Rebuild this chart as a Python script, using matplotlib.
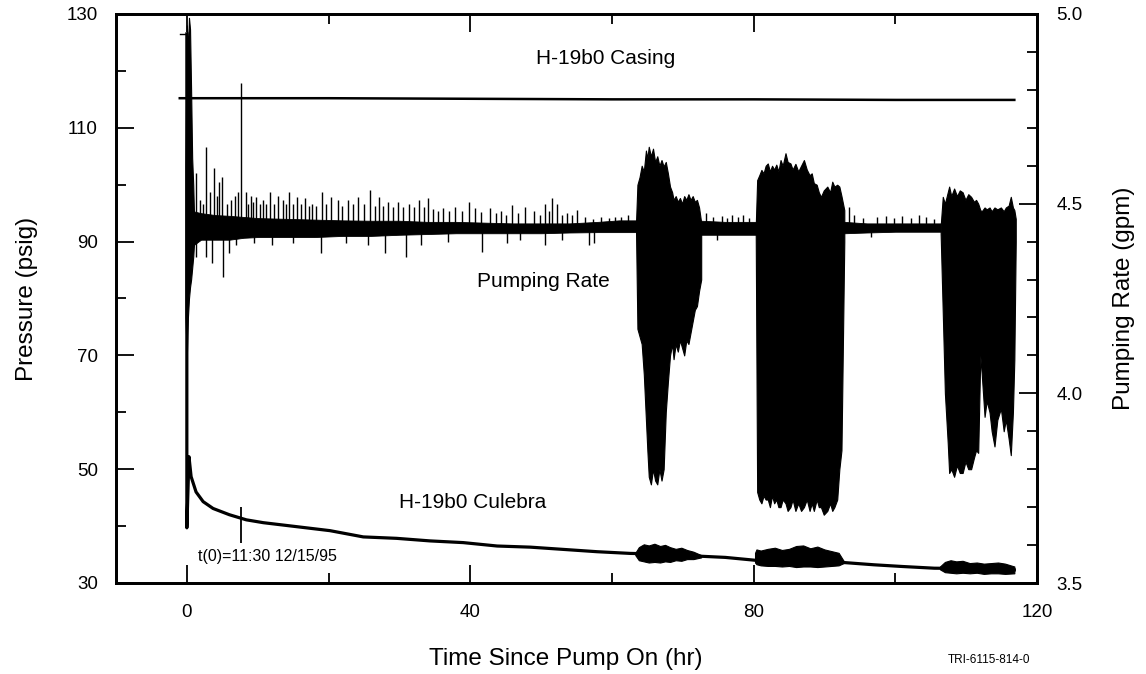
import matplotlib
matplotlib.use("Agg")
import matplotlib.pyplot as plt
from matplotlib.ticker import FixedLocator, MultipleLocator

# ---------------- data ----------------
# H-19b0 casing pressure (psig)
cas_t = [-1.0, 20, 40, 60, 80, 100, 116.8]
cas_p = [115.2, 115.2, 115.1, 115.0, 115.0, 114.9, 114.9]

# H-19b0 Culebra pressure (psig), smooth part
cul_t = [-1.0, 0.0, 0.0, 0.3, 0.6, 1.3, 2.3, 3.7, 6.0, 8.4, 10.8, 15.5, 20.2,
         24.9, 29.6, 34.3, 39.0, 43.8, 48.5, 53.2, 57.9, 62.6, 67.0, 72.6,
         76.0, 80.2, 86.0, 92.7, 97.0, 101.0, 105.5, 110.0, 114.0, 116.8]
cul_p = [126.5, 126.5, 39.7, 52.2, 48.7, 46.0, 44.3, 43.1, 42.0, 41.1, 40.6,
         39.9, 39.2, 38.1, 37.85, 37.4, 37.1, 36.5, 36.3, 35.9, 35.5, 35.2,
         35.1, 34.7, 34.5, 34.0, 34.1, 33.6, 33.2, 32.9, 32.6, 32.55, 32.4, 32.3]
# Culebra noisy episodes (envelopes)
cb1_t = [63.3, 63.8, 64.5, 65.2, 66.0, 66.8, 67.5, 68.2, 69.0, 69.8, 70.6,
         71.5, 72.6]
cb1_hi = [35.3, 36.3, 36.8, 36.6, 36.9, 36.5, 36.7, 36.3, 36.0, 36.2, 35.8,
          35.5, 34.9]
cb1_lo = [34.9, 34.0, 33.8, 33.6, 33.7, 33.6, 33.8, 33.7, 34.0, 33.9, 34.2,
          34.2, 34.5]
cb2_t = [80.2, 80.4, 81.0, 82.0, 83.0, 84.0, 85.0, 86.0, 87.0, 88.0, 89.0,
         90.0, 91.0, 92.0, 92.7]
cb2_hi = [35.3, 35.9, 35.7, 36.0, 36.2, 35.8, 36.0, 36.5, 36.6, 36.1, 36.4,
          35.9, 35.6, 35.3, 33.9]
cb2_lo = [33.6, 33.3, 33.1, 33.0, 33.0, 32.9, 33.0, 32.8, 32.9, 32.9, 32.8,
          32.9, 33.0, 33.1, 33.5]
cb3_t = [106.3, 107.0, 107.8, 108.6, 109.5, 110.5, 111.5, 112.5, 113.5,
         114.5, 115.5, 116.8]
cb3_hi = [32.9, 33.7, 34.0, 33.8, 33.9, 33.5, 33.6, 33.4, 33.5, 33.6, 33.4,
          32.9]
cb3_lo = [32.4, 31.9, 31.8, 31.7, 31.8, 31.7, 31.8, 31.6, 31.7, 31.7, 31.6,
          31.7]
cul_spk_t = [7.7]
cul_spk_lo = [37.0]
cul_spk_hi = [43.4]

# Pumping rate (gpm): start-up burst envelope
init_t = [-0.2, 0.0, 0.15, 0.3, 0.45, 0.6, 0.75, 0.9, 1.0]
init_hi = [4.60, 4.97, 4.90, 4.99, 4.96, 4.80, 4.62, 4.55, 4.48]
init_lo = [4.20, 4.10, 4.20, 4.25, 4.28, 4.30, 4.33, 4.36, 4.39]
# quiet-period band
band_t = [0.9, 2, 4, 6, 8, 10, 14, 18, 22, 26, 30, 34, 38, 42, 46, 50, 54,
          58, 61, 63.4, 72.6, 76, 80.3, 92.8, 96, 100, 104, 106.4]
band_lo = [4.39, 4.405, 4.405, 4.405, 4.41, 4.412, 4.412, 4.412, 4.415, 4.415,
           4.418, 4.42, 4.422, 4.422, 4.422, 4.422, 4.424, 4.425, 4.425, 4.425,
           4.418, 4.418, 4.418, 4.422, 4.424, 4.426, 4.426, 4.426]
band_hi = [4.48, 4.475, 4.47, 4.468, 4.465, 4.462, 4.46, 4.458, 4.456, 4.455,
           4.455, 4.452, 4.452, 4.45, 4.448, 4.448, 4.448, 4.452, 4.456, 4.456,
           4.455, 4.452, 4.452, 4.452, 4.448, 4.448, 4.448, 4.448]
# individual spikes
up_t = [1.3, 1.8, 2.3, 2.7, 3.2, 3.9, 4.2, 4.5, 4.9, 5.6, 6.3, 6.8, 7.2,
        7.7, 8.3, 8.7, 9.0, 9.4, 9.8, 10.3, 10.7, 11.2, 11.7, 12.3, 12.9,
        13.6, 14.0, 14.4, 15.0, 15.5, 16.1, 16.7, 17.2, 17.7, 18.3, 19.1,
        19.7, 20.4, 21.3, 21.9, 22.7, 23.4, 24.2, 25.0, 25.8, 26.5, 27.1,
        27.7, 28.4, 29.1, 29.8, 30.5, 31.3, 32.0, 32.8, 33.5, 34.1, 34.8,
        35.5, 36.2, 37.0, 37.9, 38.8, 39.8, 40.7, 41.5, 42.8, 43.6, 44.3,
        45.1, 45.9, 46.8, 47.8, 49.0, 49.8, 50.6, 51.1, 51.6, 52.3, 53.0,
        53.7, 54.4, 55.1, 56.2, 57.3, 58.4, 59.6, 60.5, 61.3, 62.3, 73.3,
        74.3, 75.5, 76.3, 77.0, 77.8, 78.5, 79.4, 93.5, 94.2, 95.5, 97.4,
        98.7, 99.8, 101.0, 102.2, 103.3, 104.3, 105.4]
up_v = [4.58, 4.51, 4.50, 4.65, 4.53, 4.594, 4.52, 4.557, 4.57, 4.50, 4.51,
        4.52, 4.53, 4.817, 4.53, 4.50, 4.52, 4.505, 4.518, 4.50, 4.51, 4.50,
        4.531, 4.50, 4.52, 4.51, 4.50, 4.53, 4.498, 4.518, 4.50, 4.514, 4.495,
        4.50, 4.495, 4.531, 4.50, 4.518, 4.51, 4.495, 4.51, 4.498, 4.518,
        4.50, 4.536, 4.495, 4.518, 4.495, 4.505, 4.49, 4.505, 4.49, 4.50,
        4.49, 4.51, 4.49, 4.515, 4.485, 4.48, 4.488, 4.48, 4.492, 4.48, 4.505,
        4.488, 4.478, 4.488, 4.475, 4.48, 4.47, 4.497, 4.475, 4.492, 4.48,
        4.47, 4.50, 4.48, 4.515, 4.50, 4.47, 4.475, 4.47, 4.483, 4.465, 4.46,
        4.466, 4.462, 4.465, 4.466, 4.47, 4.475, 4.465, 4.468, 4.462, 4.47,
        4.465, 4.47, 4.462, 4.492, 4.47, 4.462, 4.465, 4.468, 4.462, 4.468,
        4.462, 4.47, 4.465, 4.46]
dn_t = [1.3, 2.7, 3.6, 5.1, 6.0, 7.0, 9.5, 12.0, 15.0, 19.0, 22.5, 25.5,
        28.0, 30.9, 33.0, 36.8, 41.7, 45.2, 47.0, 50.6, 53.0, 56.8, 57.5,
        74.8, 96.6]
dn_v = [4.36, 4.36, 4.344, 4.307, 4.37, 4.39, 4.395, 4.39, 4.395, 4.37,
        4.395, 4.39, 4.37, 4.36, 4.39, 4.40, 4.373, 4.396, 4.405, 4.391, 4.405,
        4.391, 4.396, 4.405, 4.413]
# oscillating episodes
b1_t = [63.4, 63.6, 63.9, 64.2, 64.5, 64.8, 65.0, 65.2, 65.5, 65.8, 66.1,
        66.4, 66.7, 67.0, 67.3, 67.6, 67.9, 68.2, 68.5, 68.7, 69.0, 69.3,
        69.6, 69.9, 70.2, 70.5, 70.8, 71.1, 71.4, 71.7, 72.0, 72.3, 72.6]
b1_hi = [4.45, 4.55, 4.57, 4.60, 4.585, 4.64, 4.62, 4.65, 4.625, 4.645,
         4.61, 4.625, 4.60, 4.615, 4.598, 4.61, 4.58, 4.545, 4.53, 4.51,
         4.52, 4.505, 4.515, 4.50, 4.52, 4.51, 4.525, 4.51, 4.52, 4.505,
         4.51, 4.49, 4.45]
b1_lo = [4.43, 4.17, 4.15, 4.13, 4.05, 3.93, 3.85, 3.78, 3.76, 3.80, 3.77,
         3.76, 3.80, 3.77, 3.80, 3.95, 4.03, 4.10, 4.13, 4.09, 4.13, 4.11,
         4.14, 4.12, 4.10, 4.14, 4.13, 4.16, 4.19, 4.22, 4.23, 4.27, 4.30]
b2_t = [80.3, 80.5, 80.8, 81.1, 81.4, 81.7, 82.0, 82.3, 82.6, 82.9, 83.2,
        83.5, 83.8, 84.1, 84.5, 84.8, 85.2, 85.5, 85.9, 86.3, 86.7, 87.1,
        87.5, 87.9, 88.2, 88.5, 88.9, 89.2, 89.5, 89.9, 90.4, 90.8, 91.1,
        91.4, 91.8, 92.1, 92.4, 92.8]
b2_hi = [4.44, 4.562, 4.575, 4.589, 4.58, 4.60, 4.606, 4.585, 4.60, 4.59,
         4.603, 4.585, 4.615, 4.60, 4.633, 4.61, 4.606, 4.59, 4.605, 4.585,
         4.60, 4.615, 4.59, 4.575, 4.58, 4.554, 4.55, 4.53, 4.518, 4.535,
         4.545, 4.53, 4.558, 4.545, 4.55, 4.545, 4.52, 4.483]
b2_lo = [4.42, 3.74, 3.72, 3.71, 3.73, 3.72, 3.72, 3.70, 3.73, 3.71, 3.72,
         3.70, 3.70, 3.72, 3.71, 3.69, 3.70, 3.72, 3.69, 3.71, 3.69, 3.70,
         3.72, 3.69, 3.71, 3.69, 3.72, 3.70, 3.70, 3.68, 3.69, 3.71, 3.69,
         3.70, 3.72, 3.80, 3.85, 4.40]
b3_t = [106.4, 106.7, 107.0, 107.4, 107.6, 107.9, 108.3, 108.7, 109.1,
        109.5, 109.9, 110.3, 110.7, 111.1, 111.4, 111.7, 112.0, 112.2,
        112.6, 112.9, 113.3, 113.6, 114.0, 114.4, 114.9, 115.3, 115.6,
        116.0, 116.3, 116.6, 116.8, 117.0]
b3_hi = [4.44, 4.518, 4.50, 4.53, 4.545, 4.52, 4.54, 4.52, 4.535, 4.53,
         4.51, 4.525, 4.518, 4.505, 4.51, 4.50, 4.483, 4.48, 4.49, 4.485,
         4.49, 4.48, 4.49, 4.485, 4.49, 4.48, 4.49, 4.495, 4.518, 4.49,
         4.483, 4.46]
b3_lo = [4.42, 4.212, 4.00, 3.869, 3.79, 3.80, 3.78, 3.81, 3.79, 3.79,
         3.82, 3.80, 3.80, 3.83, 3.85, 3.843, 4.10, 4.05, 3.938, 3.98, 3.95,
         3.90, 3.86, 3.93, 3.96, 3.90, 3.93, 3.88, 3.837, 3.95, 4.088, 4.40]

x_major = [0, 40, 80, 120]
x_minor = [20, 60, 100]
p_major = [30, 50, 70, 90, 110, 130]
p_minor = [40, 60, 80, 100, 120]
q_major = [3.5, 4.0, 4.5, 5.0]

# ---------------- figure ----------------
plt.rcParams['font.family'] = ['Liberation Sans', 'DejaVu Sans']
W, H = 1146, 674
fig = plt.figure(figsize=(W / 100, H / 100), dpi=100)
L, R, T, B = 116, 1037, 14, 583
ax = fig.add_axes([L / W, 1 - B / H, (R - L) / W, (B - T) / H])
ax2 = ax.twinx()

k = 'black'
# pressures
ax.plot(cas_t, cas_p, color=k, lw=1.8)
ax.plot(cul_t[:2], cul_p[:2], color=k, lw=1.0)
ax.plot(cul_t[1:], cul_p[1:], color=k, lw=2.3)
for tt, lo, hi in [(cb1_t, cb1_lo, cb1_hi), (cb2_t, cb2_lo, cb2_hi),
                   (cb3_t, cb3_lo, cb3_hi)]:
    ax.fill_between(tt, lo, hi, color=k, lw=0.8)
ax.vlines(cul_spk_t, cul_spk_lo, cul_spk_hi, color=k, lw=1.3)

# pumping rate
ax2.fill_between(init_t, init_lo, init_hi, color=k, lw=0.8)
ax2.fill_between(band_t, band_lo, band_hi, color=k, lw=0.6)
ax2.vlines(up_t, 4.44, up_v, color=k, lw=1.0)
ax2.vlines(dn_t, dn_v, 4.43, color=k, lw=1.0)
for tt, lo, hi in [(b1_t, b1_lo, b1_hi), (b2_t, b2_lo, b2_hi),
                   (b3_t, b3_lo, b3_hi)]:
    ax2.fill_between(tt, lo, hi, color=k, lw=0.8)

# axes limits / ticks
ax.set_xlim(-10, 120)
ax.set_ylim(30, 130)
ax2.set_ylim(3.5, 5.0)
ax.xaxis.set_major_locator(FixedLocator(x_major))
ax.xaxis.set_minor_locator(FixedLocator(x_minor))
ax.yaxis.set_major_locator(FixedLocator(p_major))
ax.yaxis.set_minor_locator(FixedLocator(p_minor))
ax2.yaxis.set_major_locator(FixedLocator(q_major))
ax2.yaxis.set_minor_locator(MultipleLocator(0.1))
ax2.set_yticklabels(['%.1f' % v for v in q_major])

ax.tick_params(axis='x', which='both', direction='in', top=True, bottom=True,
               width=1.3, labelsize=13.5, pad=15)
ax.tick_params(axis='y', which='both', direction='in', left=True, right=False,
               width=1.3, labelsize=13.5, pad=13)
ax2.tick_params(axis='y', which='both', direction='in', right=True, left=False,
                width=1.3, labelsize=13.5, pad=14)
for a in (ax, ax2):
    a.tick_params(which='major', length=13)
    a.tick_params(which='minor', length=7)
    for s in a.spines.values():
        s.set_linewidth(2.0)

ax.set_xlabel('Time Since Pump On (hr)', fontsize=17.5)
ax.set_ylabel('Pressure (psig)', fontsize=17.5)
ax2.set_ylabel('Pumping Rate (gpm)', fontsize=17.5)
ax.xaxis.set_label_coords((566 - L) / (R - L), (B - 648) / (B - T))
ax.yaxis.set_label_coords((38 - L) / (R - L), 0.5)
ax2.yaxis.set_label_coords((1113 - L) / (R - L), 0.5)

# annotations
ax.text(59.1, 122.1, 'H-19b0 Casing', fontsize=15, ha='center', va='center')
ax.text(50.3, 82.95, 'Pumping Rate', fontsize=15, ha='center', va='center')
ax.text(40.4, 44.1, 'H-19b0 Culebra', fontsize=15, ha='center', va='center')
ax.text(1.6, 34.6, 't(0)=11:30 12/15/95', fontsize=11.5, ha='left', va='center')
fig.text(989 / W, 1 - 660 / H, 'TRI-6115-814-0', fontsize=8.5, ha='center',
         va='center')

fig.savefig('out.png', dpi=100)
